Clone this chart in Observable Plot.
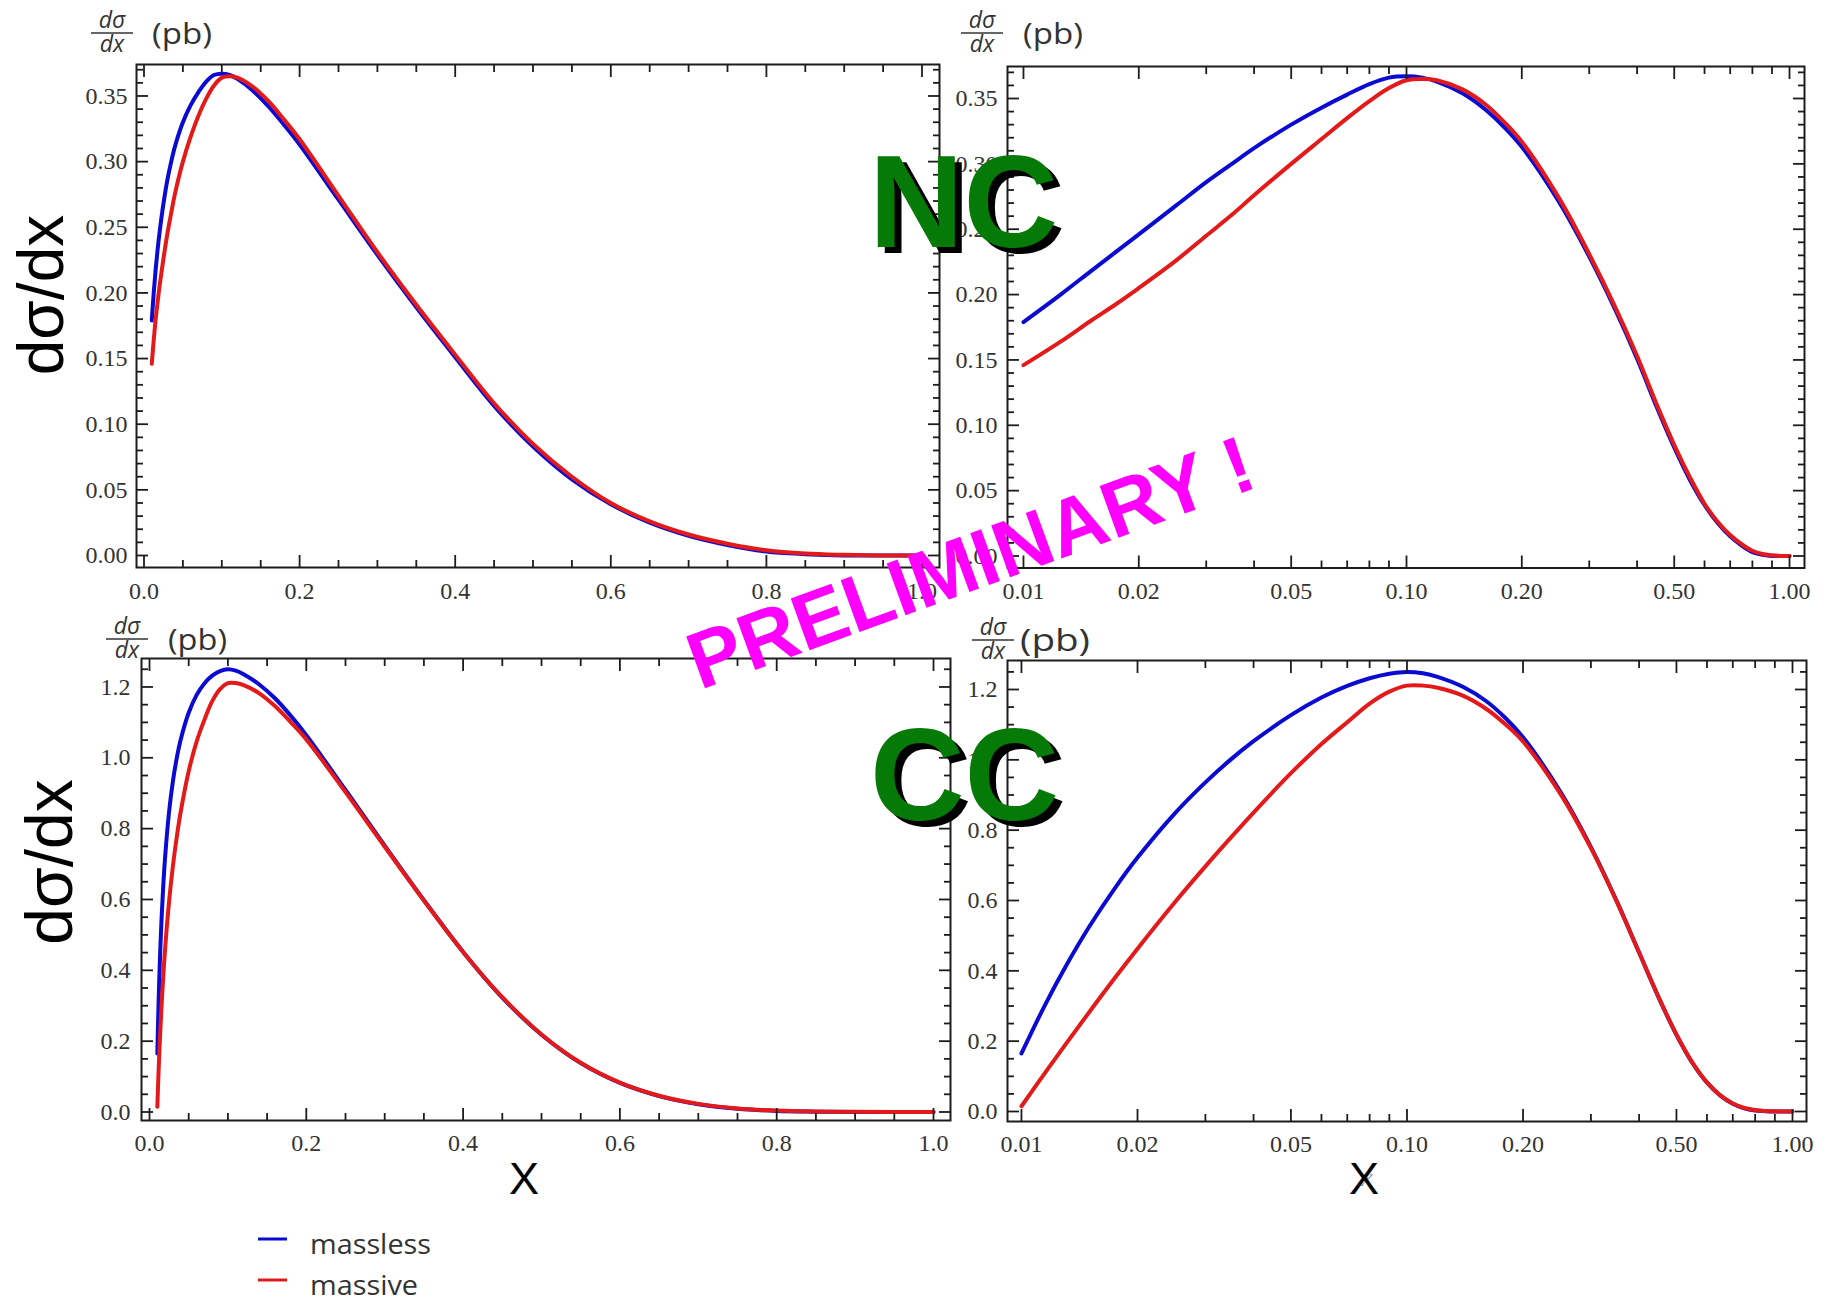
<!DOCTYPE html>
<html><head><meta charset="utf-8">
<script src="https://cdn.jsdelivr.net/npm/d3@7"></script>
<script src="https://cdn.jsdelivr.net/npm/@observablehq/plot@0.6"></script>
<style>
html,body{margin:0;padding:0;background:#fff;}
#root{position:relative;width:1826px;height:1305px;overflow:hidden;background:#fff;}
#root svg{position:absolute;max-width:none;}
</style></head>
<body><div id="root"></div>
<script>
// ---------------- data ----------------
const seriesNames = ["massless", "massive"];
const seriesColors = ["#0a0ad2", "#e41a1a"];

// NC
const ncX = [0.01, 0.0125, 0.015, 0.0175, 0.02, 0.025, 0.03, 0.035, 0.04, 0.05, 0.06, 0.07, 0.08, 0.09, 0.10, 0.11, 0.12, 0.14, 0.16, 0.18, 0.20, 0.25, 0.30, 0.35, 0.40, 0.45, 0.50, 0.55, 0.60, 0.65, 0.70, 0.75, 0.80, 0.85, 0.90, 0.95, 1.00];
const ncMassless = [0.179, 0.200, 0.218, 0.233, 0.246, 0.268, 0.286, 0.300, 0.312, 0.330, 0.343, 0.353, 0.361, 0.366, 0.367, 0.366, 0.363, 0.354, 0.342, 0.328, 0.313, 0.271, 0.229, 0.189, 0.151, 0.114, 0.083, 0.058, 0.039, 0.025, 0.015, 0.008, 0.003, 0.001, 0.0, 0.0, 0.0];
const ncMassive  = [0.146, 0.164, 0.180, 0.193, 0.205, 0.226, 0.245, 0.261, 0.276, 0.300, 0.319, 0.335, 0.348, 0.358, 0.364, 0.365, 0.364, 0.357, 0.346, 0.332, 0.317, 0.274, 0.231, 0.191, 0.153, 0.116, 0.085, 0.060, 0.040, 0.026, 0.016, 0.009, 0.004, 0.0015, 0.0005, 0.0, 0.0];

// CC
const ccX = [0.01, 0.0115, 0.013, 0.015, 0.0175, 0.02, 0.025, 0.03, 0.035, 0.04, 0.05, 0.06, 0.07, 0.08, 0.09, 0.10, 0.11, 0.12, 0.14, 0.16, 0.18, 0.20, 0.25, 0.30, 0.35, 0.40, 0.45, 0.50, 0.55, 0.60, 0.65, 0.70, 0.75, 0.80, 0.85, 0.90, 0.95, 1.00];
const ccMassless = [0.165, 0.302, 0.411, 0.526, 0.636, 0.722, 0.848, 0.936, 1.002, 1.053, 1.127, 1.177, 1.210, 1.232, 1.245, 1.250, 1.246, 1.236, 1.207, 1.168, 1.119, 1.064, 0.909, 0.752, 0.598, 0.452, 0.323, 0.218, 0.138, 0.082, 0.045, 0.022, 0.009, 0.003, 0.001, 0.0, 0.0, 0.0];
const ccMassive  = [0.015, 0.109, 0.190, 0.283, 0.381, 0.463, 0.595, 0.697, 0.780, 0.850, 0.962, 1.045, 1.107, 1.160, 1.194, 1.211, 1.211, 1.205, 1.182, 1.146, 1.101, 1.052, 0.903, 0.749, 0.597, 0.452, 0.324, 0.219, 0.139, 0.083, 0.046, 0.023, 0.010, 0.004, 0.0015, 0.0005, 0.0, 0.0];

// tick values / labels
const linXTicks = [0, 0.2, 0.4, 0.6, 0.8, 1.0];
const linXMinor = [0.05, 0.1, 0.15, 0.25, 0.3, 0.35, 0.45, 0.5, 0.55, 0.65, 0.7, 0.75, 0.85, 0.9, 0.95];
const logXTicks = [0.01, 0.02, 0.05, 0.1, 0.2, 0.5, 1.0];
const logXMinor = [0.03, 0.04, 0.06, 0.07, 0.08, 0.09, 0.3, 0.4, 0.6, 0.7, 0.8, 0.9];
const ncYTicks = [0, 0.05, 0.10, 0.15, 0.20, 0.25, 0.30, 0.35];
const ncYMinor = [0.01,0.02,0.03,0.04,0.06,0.07,0.08,0.09,0.11,0.12,0.13,0.14,0.16,0.17,0.18,0.19,0.21,0.22,0.23,0.24,0.26,0.27,0.28,0.29,0.31,0.32,0.33,0.34,0.36,0.37];
const ccYTicks = [0, 0.2, 0.4, 0.6, 0.8, 1.0, 1.2];
const ccYMinor = [0.05,0.1,0.15,0.25,0.3,0.35,0.45,0.5,0.55,0.65,0.7,0.75,0.85,0.9,0.95,1.05,1.1,1.15,1.25];

// ---------------- helpers ----------------
const root = document.getElementById("root");
function rowsOf(xs, a, b) {
  return [
    ...xs.map((x, i) => ({x, v: a[i], s: seriesNames[0]})),
    ...xs.map((x, i) => ({x, v: b[i], s: seriesNames[1]}))
  ];
}
const TICK = "#1c1c1c";
function panel(cfg) {
  const [fl, ft, fr, fb] = cfg.frame;
  const mL = 80, mR = 24, mT = 14, mB = 50;
  const W = fr - fl + mL + mR, H = fb - ft + mT + mB;
  const tk = (axis, data, anchor, size) => axis(data, {anchor, tickSize: size, fill: "none", stroke: TICK, strokeWidth: 1.8, label: null});
  const svg = Plot.plot({
    width: W, height: H,
    marginLeft: mL, marginRight: mR, marginTop: mT, marginBottom: mB,
    style: {background: "transparent", fontFamily: "'Liberation Serif', serif", fontSize: "24px", color: "#333", overflow: "visible"},
    x: {type: cfg.xType, domain: cfg.xDomain},
    y: {type: "linear", domain: cfg.yDomain},
    color: {domain: seriesNames, range: seriesColors},
    marks: [
      Plot.line(cfg.rows, {x: "x", y: "v", z: "s", stroke: "s", strokeWidth: 4, curve: "catmull-rom"}),
      Plot.frame({stroke: TICK, strokeWidth: 2}),
      Plot.axisX(cfg.xTicks, {anchor: "bottom", tickSize: 0, tickPadding: cfg.xPad, tickFormat: cfg.xFmt, fill: "#333", label: null}),
      Plot.axisY(cfg.yTicks, {anchor: "left", tickSize: 0, tickPadding: cfg.yPad, tickFormat: cfg.yFmt, fill: "#333", label: null}),
      tk(Plot.axisX, cfg.xTicks, "bottom", -12), tk(Plot.axisX, cfg.xMinor, "bottom", -7),
      tk(Plot.axisX, cfg.xTicks, "top", -12), tk(Plot.axisX, cfg.xMinor, "top", -7),
      tk(Plot.axisY, cfg.yTicks, "left", -12), tk(Plot.axisY, cfg.yMinor, "left", -7),
      tk(Plot.axisY, cfg.yTicks, "right", -12), tk(Plot.axisY, cfg.yMinor, "right", -7)
    ]
  });
  svg.style.left = (fl - mL) + "px";
  svg.style.top = (ft - mT) + "px";
  root.append(svg);
}

const f1 = d3.format(".1f"), f2 = d3.format(".2f");
const ncRows = rowsOf(ncX, ncMassless, ncMassive);
const ccRows = rowsOf(ccX, ccMassless, ccMassive);

panel({frame: [136, 64, 939, 567], xType: "linear", xDomain: [-0.00964, 1.02249], yDomain: [-0.00914, 0.37398],
  rows: ncRows, xTicks: linXTicks, xMinor: linXMinor, xFmt: f1, yTicks: ncYTicks, yMinor: ncYMinor, yFmt: f2, xPad: 14, yPad: 9});
panel({frame: [1007, 65.5, 1804, 567], xType: "log", xDomain: [0.009084, 1.0943], yDomain: [-0.00918, 0.37449],
  rows: ncRows, xTicks: logXTicks, xMinor: logXMinor, xFmt: f2, yTicks: ncYTicks, yMinor: ncYMinor, yFmt: f2, xPad: 14, yPad: 10});
panel({frame: [141, 657.5, 950, 1119.5], xType: "linear", xDomain: [-0.0102, 1.02168], yDomain: [-0.024, 1.28035],
  rows: ccRows, xTicks: linXTicks, xMinor: linXMinor, xFmt: f1, yTicks: ccYTicks, yMinor: ccYMinor, yFmt: f1, xPad: 13, yPad: 11});
panel({frame: [1007, 660, 1806, 1121], xType: "log", xDomain: [0.0092, 1.0872], yDomain: [-0.02844, 1.28245],
  rows: ccRows, xTicks: logXTicks, xMinor: logXMinor, xFmt: f2, yTicks: ccYTicks, yMinor: ccYMinor, yFmt: f1, xPad: 13, yPad: 10});

// ---------------- annotations ----------------
const ov = d3.select(root).append("svg")
  .attr("width", 1826).attr("height", 1305)
  .style("left", "0px").style("top", "0px").style("pointer-events", "none");

// panel header  dσ/dx (pb)
const headers = [
  {cx: 112, line: 33, pb: 152, pbSize: 29, pbLen: 60},
  {cx: 982, line: 33, pb: 1023, pbSize: 29, pbLen: 60},
  {cx: 127, line: 639, pb: 168, pbSize: 29, pbLen: 59},
  {cx: 993, line: 640, pb: 1020, pbSize: 31, pbLen: 70}
];
for (const h of headers) {
  const g = ov.append("g").attr("fill", "#333");
  g.append("text").attr("x", h.cx).attr("y", h.line - 5).attr("text-anchor", "middle")
    .attr("font-family", "'Open Sans', sans-serif").attr("font-style", "italic").attr("font-size", 23).text("dσ");
  g.append("line").attr("x1", h.cx - 21).attr("x2", h.cx + 21).attr("y1", h.line).attr("y2", h.line)
    .attr("stroke", "#333").attr("stroke-width", 1.6);
  g.append("text").attr("x", h.cx).attr("y", h.line + 19).attr("text-anchor", "middle")
    .attr("font-family", "'Open Sans', sans-serif").attr("font-style", "italic").attr("font-size", 23).text("dx");
  g.append("text").attr("x", h.pb).attr("y", h.line + 11)
    .attr("font-family", "'Open Sans', sans-serif").attr("font-size", h.pbSize)
    .attr("textLength", h.pbLen).attr("lengthAdjust", "spacingAndGlyphs").text("(pb)");
}

// y titles
ov.append("text").attr("transform", "translate(63,295) rotate(-90)").attr("text-anchor", "middle")
  .attr("font-family", "'Liberation Sans', sans-serif").attr("font-size", 64).attr("fill", "#000").text("dσ/dx");
ov.append("text").attr("transform", "translate(72,862) rotate(-90)").attr("text-anchor", "middle")
  .attr("font-family", "'Liberation Sans', sans-serif").attr("font-size", 66).attr("fill", "#000").text("dσ/dx");

// x titles (with the faint original "x" behind the right one)
ov.append("text").attr("x", 1367).attr("y", 1186).attr("text-anchor", "middle")
  .attr("font-family", "'Liberation Serif', serif").attr("font-style", "italic").attr("font-size", 26).attr("fill", "#9a9a9a").text("x");
for (const cx of [524, 1364]) {
  ov.append("text").attr("x", cx).attr("y", 1194).attr("text-anchor", "middle")
    .attr("font-family", "'Liberation Sans', sans-serif").attr("font-size", 45).attr("fill", "#000").text("X");
}

// legend
const legY = [1239, 1280];
seriesNames.forEach((name, i) => {
  ov.append("line").attr("x1", 258).attr("x2", 287).attr("y1", legY[i]).attr("y2", legY[i])
    .attr("stroke", seriesColors[i]).attr("stroke-width", 3);
  ov.append("text").attr("x", 310).attr("y", legY[i] + 15)
    .attr("font-family", "'Open Sans', sans-serif").attr("font-size", 27).attr("fill", "#333")
    .attr("textLength", i === 0 ? 121 : 108).attr("lengthAdjust", "spacingAndGlyphs").text(name);
});

// NC / CC stamps
for (const [label, x, y] of [["NC", 869, 247], ["CC", 870, 820]]) {
  ov.append("text").attr("x", x + 7).attr("y", y + 6)
    .attr("font-family", "'Liberation Sans', Arial, sans-serif").attr("font-weight", "bold").attr("font-size", 131)
    .attr("fill", "#000").text(label);
  ov.append("text").attr("x", x).attr("y", y)
    .attr("font-family", "'Liberation Sans', Arial, sans-serif").attr("font-weight", "bold").attr("font-size", 131)
    .attr("fill", "#067a06").text(label);
}

// PRELIMINARY
ov.append("text").attr("transform", "translate(700,690) rotate(-20)")
  .attr("font-family", "'Liberation Sans', Arial, sans-serif").attr("font-weight", "bold").attr("font-size", 80)
  .attr("fill", "#ff00ff").text("PRELIMINARY !");
</script>
</body></html>
